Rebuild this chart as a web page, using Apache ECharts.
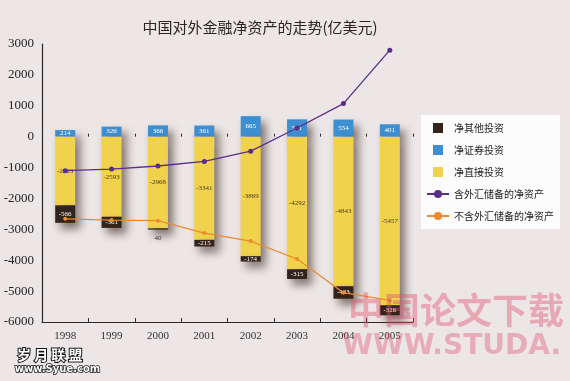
<!DOCTYPE html>
<html><head><meta charset="utf-8">
<script src="https://cdn.jsdelivr.net/npm/echarts@6/dist/echarts.min.js"></script>
<style>html,body{margin:0;padding:0;background:#ece6e7;}#c{width:570px;height:381px;}</style>
</head><body><div id="c"></div>
<script>
const years = ['1998','1999','2000','2001','2002','2003','2004','2005'];
const portfolio = [214, 326, 366, 361, 665, 561, 554, 401];
const direct = [-2223, -2593, -2968, -3341, -3869, -4292, -4843, -5457];
const other = [-566, -361, -40, -215, -174, -315, -403, -326];
const withReserves = [-1100, -1050, -950, -800, -470, 280, 1070, 2800];
const withoutReserves = [-2660, -2700, -2720, -3120, -3380, -3960, -5050, -5300];
const yTicks = [-6000, 3000, 1000];

const chart = echarts.init(document.getElementById('c'));
const serif = '"Liberation Serif","DejaVu Serif",serif';
const cjk = '"Noto Sans CJK SC","Noto Sans",sans-serif';
const shadow = {shadowColor:'rgba(40,20,10,0.55)', shadowBlur:8, shadowOffsetX:5, shadowOffsetY:6};
chart.setOption({
  backgroundColor:'#ece6e7',
  animation:false,
  title:{text:'中国对外金融净资产的走势(亿美元)', left:255, top:15, textAlign:'center',
    textStyle:{fontFamily:cjk, fontSize:15, fontWeight:'normal', color:'#2a2424'}},
  grid:{left:42, right:157, top:44, bottom:59},
  legend:{orient:'vertical', left:421, top:115, backgroundColor:'#fdfcfc', padding:[8,6,8,5],
    itemWidth:22, itemHeight:10, itemGap:12,
    textStyle:{fontFamily:cjk, fontSize:10, color:'#222'},
    data:[
      {name:'净其他投资', icon:'path://M0,0H10V10H0Z'},
      {name:'净证券投资', icon:'path://M0,0H10V10H0Z'},
      {name:'净直接投资', icon:'path://M0,0H10V10H0Z'},
      {name:'含外汇储备的净资产'},
      {name:'不含外汇储备的净资产'}
    ]},
  xAxis:[
    {type:'category', data:years, position:'bottom',
      axisLine:{onZero:false, lineStyle:{color:'#2a2a2a', width:1.2}},
      axisTick:{show:true, inside:true, length:4, lineStyle:{color:'#2a2a2a'}},
      axisLabel:{fontFamily:serif, fontSize:11, color:'#333', margin:9}},
    {type:'category', data:years, position:'bottom',
      axisLine:{onZero:true, show:false},
      axisTick:{show:true, inside:true, length:3, lineStyle:{color:'#333'}},
      axisLabel:{show:false}}
  ],
  yAxis:{type:'value', min:yTicks[0], max:yTicks[1], interval:yTicks[2],
    axisLine:{show:true, lineStyle:{color:'#2a2a2a', width:1.2}},
    axisTick:{show:false}, splitLine:{show:false},
    axisLabel:{fontFamily:serif, fontSize:13, color:'#222', margin:8, formatter:v=>String(v)}},
  series:[
    {name:'净证券投资', type:'bar', stack:'a', data:portfolio, barWidth:20,
      itemStyle:Object.assign({color:'#3d8fd1'}, shadow),
      label:{show:true, position:'inside', fontFamily:serif, fontSize:7, color:'#fff'}},
    {name:'净直接投资', type:'bar', stack:'a', data:direct, barWidth:20,
      itemStyle:Object.assign({color:'#f0d24c'}, shadow),
      label:{show:true, position:'inside', fontFamily:serif, fontSize:7, color:'#4a3a20'}},
    {name:'净其他投资', type:'bar', stack:'a', barWidth:20,
      data:other.map((v,i)=> i===2 ? {value:v, label:{position:'bottom', color:'#333', formatter:String(-v)}} : v),
      itemStyle:Object.assign({color:'#33231a'}, shadow),
      label:{show:true, position:'inside', fontFamily:serif, fontSize:7, color:'#fff'}},
    {name:'含外汇储备的净资产', type:'line', data:withReserves, symbol:'circle', symbolSize:5,
      lineStyle:{color:'#5a2e86', width:1.3}, itemStyle:{color:'#5a2e86'}, z:5},
    {name:'不含外汇储备的净资产', type:'line', data:withoutReserves, symbol:'circle', symbolSize:4,
      lineStyle:{color:'#ec8a2c', width:1.3}, itemStyle:{color:'#ec8a2c'}, z:5}
  ],
  graphic:[
    {type:'text', left:348, top:292, z:100, style:{text:'中国论文下载', fontFamily:cjk, fontSize:36, fontWeight:'bold', fill:'rgba(225,80,110,0.42)'}},
    {type:'text', left:342, top:333, z:100, style:{text:'WWW.STUDA.', fontFamily:'"DejaVu Sans",sans-serif', fontSize:28, fontWeight:'bold', fill:'rgba(225,80,110,0.38)'}},
    {type:'text', left:16, top:347, z:100, style:{text:'岁 月 联 盟', fontFamily:cjk, fontSize:14, fontWeight:'bold', fill:'#fff', stroke:'#111', lineWidth:2}},
    {type:'text', left:14, top:364, z:100, style:{text:'www.Syue.com', fontFamily:'"DejaVu Sans",sans-serif', fontSize:10, fontWeight:'bold', fill:'#fff', stroke:'#111', lineWidth:1.5}}
  ]
});
</script></body></html>
